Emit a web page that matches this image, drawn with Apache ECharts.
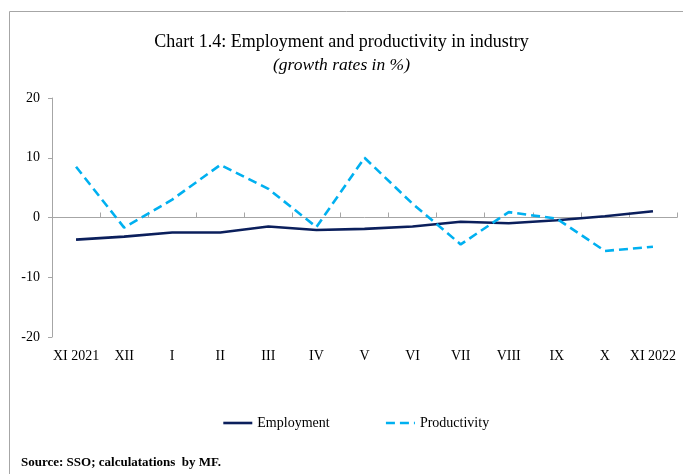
<!DOCTYPE html>
<html>
<head>
<meta charset="utf-8">
<script src="https://cdn.jsdelivr.net/npm/echarts@6/dist/echarts.min.js"></script>
<style>
  html, body { margin: 0; padding: 0; background: #fff; }
  #chart { width: 683px; height: 474px; }
</style>
</head>
<body>
<div id="chart"></div>
<script>
// months, Nov 2021 .. Nov 2022
var months = ['XI 2021', 'XII', 'I', 'II', 'III', 'IV', 'V', 'VI', 'VII', 'VIII', 'IX', 'X', 'XI 2022']
// growth rates in %
var employment = [-3.7, -3.2, -2.5, -2.5, -1.5, -2.1, -1.9, -1.5, -0.7, -0.95, -0.45, 0.2, 1.05]
var productivity = [8.5, -1.7, 3.0, 8.8, 4.8, -1.6, 10.0, 2.3, -4.5, 0.9, -0.2, -5.6, -4.9]

var serif = '"Liberation Serif", "Times New Roman", serif'
var axisGray = '#a6a6a6'

var chart = echarts.init(document.getElementById('chart'), null, { renderer: 'canvas' })

chart.setOption({
  animation: false,
  backgroundColor: '#fff',
  textStyle: { fontFamily: serif },
  title: [
    {
      text: 'Chart 1.4: Employment and productivity in industry',
      left: 'center', top: 28,
      textStyle: { fontFamily: serif, fontSize: 18, fontWeight: 'normal', color: '#000' }
    },
    {
      text: '(growth rates in %)',
      left: 'center', top: 51,
      textStyle: { fontFamily: serif, fontSize: 17.5, fontStyle: 'italic', fontWeight: 'normal', color: '#000' }
    },
    {
      text: 'Source: SSO; calculatations  by MF.',
      left: 16, top: 451,
      textStyle: { fontFamily: serif, fontSize: 13, fontWeight: 'bold', color: '#000' }
    }
  ],
  graphic: [
    { type: 'line', shape: { x1: 9.5, y1: 11.5, x2: 683, y2: 11.5 }, style: { stroke: axisGray, lineWidth: 1 } },
    { type: 'line', shape: { x1: 9.5, y1: 11.5, x2: 9.5, y2: 474 }, style: { stroke: axisGray, lineWidth: 1 } }
  ],
  legend: {
    left: 217, top: 411,
    itemWidth: 29, itemHeight: 10, itemGap: 55,
    itemStyle: { opacity: 0 },
    lineStyle: { width: 2.6 },
    textStyle: { fontFamily: serif, fontSize: 14, color: '#000' },
    data: ['Employment', 'Productivity']
  },
  grid: { left: 52, right: 6, top: 98, bottom: 137, containLabel: false },
  xAxis: [
    {
      type: 'category',
      data: months,
      boundaryGap: true,
      axisLine: { show: false, onZero: false },
      axisTick: { show: false },
      axisLabel: { margin: 12, fontSize: 14, color: '#000', fontFamily: serif, interval: 0 }
    },
    {
      type: 'category',
      data: months,
      boundaryGap: true,
      axisLine: { show: true, onZero: true, lineStyle: { color: axisGray, width: 1 } },
      axisTick: { show: true, length: 5, inside: false, interval: 0, lineStyle: { color: axisGray } },
      axisLabel: { show: false }
    }
  ],
  yAxis: {
    type: 'value',
    min: -20, max: 20, interval: 10,
    axisLine: { show: true, lineStyle: { color: axisGray, width: 1 } },
    axisTick: { show: true, length: 4, lineStyle: { color: axisGray } },
    splitLine: { show: false },
    axisLabel: { margin: 12, fontSize: 14, color: '#000', fontFamily: serif }
  },
  series: [
    {
      name: 'Employment',
      type: 'line',
      data: employment,
      symbol: 'none',
      lineStyle: { color: '#0b1f5c', width: 2.6 },
      itemStyle: { color: '#0b1f5c' }
    },
    {
      name: 'Productivity',
      type: 'line',
      data: productivity,
      symbol: 'none',
      lineStyle: { color: '#00b0f0', width: 2.6, type: [9, 5] },
      itemStyle: { color: '#00b0f0' }
    }
  ]
})
</script>
</body>
</html>
